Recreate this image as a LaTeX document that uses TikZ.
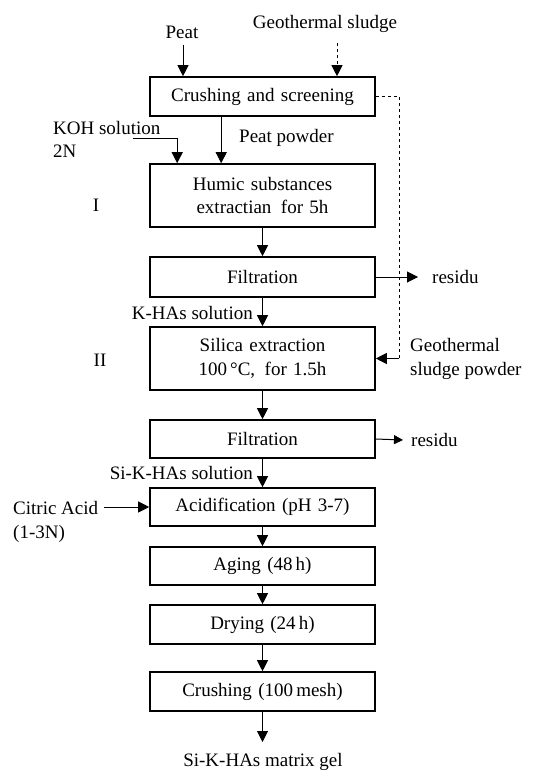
\documentclass[tikz,border=0pt]{standalone}
\usepackage{fontspec}
\setmainfont{Liberation Serif}
\usetikzlibrary{arrows.meta,calc}
\begin{document}
\begin{tikzpicture}[x=1pt,y=-1pt,
  every node/.style={font=\fontsize{19}{23.5}\selectfont, inner sep=0pt},
  box/.style={draw, line width=1.6pt, minimum width=225pt, text width=215pt, align=center},
  arr/.style={-{Triangle[length=11pt,width=11pt]}, line width=1pt},
  sarr/.style={-{Triangle[length=9pt,width=9pt]}, line width=1pt},
  dsh/.style={dash pattern=on 3pt off 3pt, line width=1pt}]
\useasboundingbox (0,0) rectangle (552,770);

% boxes
\node[box, minimum height=39pt] (crush) at (262.5,96.5) {Crushing and screening};
\node[box, minimum height=63pt] (humic) at (262.5,195.5) {Humic substances\\extractian\, for 5h};
\node[box, minimum height=40pt] (filt1) at (262.5,277) {Filtration};
\node[box, minimum height=63pt] (silica) at (262.5,358.5) {Silica extraction\\100\,\textdegree C,\, for 1.5h};
\node[box, minimum height=38pt] (filt2) at (262.5,439) {Filtration};
\node[box, minimum height=38pt] (acid) at (262.5,507) {Acidification (pH 3-7)};
\node[box, minimum height=38pt] (aging) at (262.5,566) {Aging (48\,h)};
\node[box, minimum height=39pt] (drying) at (262.5,624.5) {Drying (24\,h)};
\node[box, minimum height=39pt] (crush2) at (262.5,691.5) {Crushing (100\,mesh)};

% labels
\node (peat) at (182,32) {Peat};
\node (geo) at (325,24) {Geothermal sludge};
\node[align=left, anchor=west] (koh) at (53,139.5) {KOH solution\\2N};
\node[anchor=west] (ppow) at (239,138) {Peat powder};
\node (one) at (96,205) {I};
\node (two) at (100,360) {II};
\node[anchor=west] (res1) at (432,277) {residu};
\node[anchor=west] (res2) at (411,440) {residu};
\node[anchor=east] (khas) at (253,313) {K-HAs solution};
\node[anchor=east] (sikhas) at (253,473) {Si-K-HAs solution};
\node[align=left, anchor=west] (gsp) at (410,359) {Geothermal\\sludge powder};
\node[align=left, anchor=west] (cit) at (13,522) {Citric Acid\\(1-3N)};
\node (gel) at (263,762) {Si-K-HAs matrix gel};

% free ends
\coordinate (peatS) at (183,45);
\coordinate (geoS) at (337,43);
\coordinate (kohE) at (133,139);
\coordinate (citE) at (104,507);
\coordinate (dr) at (399,0);
\coordinate (gelT) at (262.5,742);

% connectors
\draw[arr] (peatS) -- (peatS |- crush.north);
\draw[arr, dsh] (geoS) -- (geoS |- crush.north);
\draw[dsh] (crush.east) -- (crush.east -| dr) -- (silica.east -| dr);
\draw[arr] (silica.east -| dr) -- (silica.east);
\draw[arr] (kohE) -| ([xshift=28pt]humic.north west);
\draw[arr] ([xshift=72pt]crush.south west) -- ([xshift=72pt]humic.north west);
\draw[arr] (humic) -- (filt1);
\draw[arr] (filt1.east) -- ([xshift=-14pt]res1.west);
\draw[arr] (filt1) -- (silica);
\draw[arr] (silica) -- (filt2);
\draw[sarr] (filt2.east) -- ([xshift=-8pt]res2.west);
\draw[arr] (filt2) -- (acid);
\draw[arr] (citE) -- (acid.west);
\draw[arr] (acid) -- (aging);
\draw[arr] (aging) -- (drying);
\draw[arr] (drying) -- (crush2);
\draw[arr] (crush2) -- (gelT);
\end{tikzpicture}
\end{document}
